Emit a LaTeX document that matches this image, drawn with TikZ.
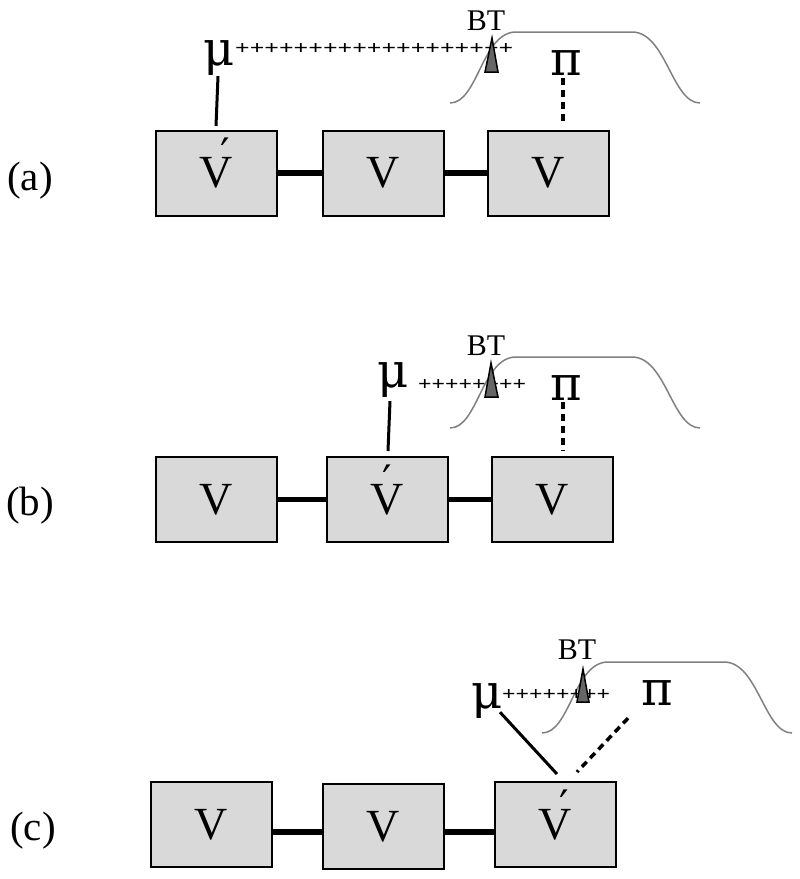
\documentclass[tikz,border=0pt]{standalone}
\usepackage{fontspec}
\usepackage{graphicx}
\setmainfont{Liberation Serif}
\newfontfamily\primefont{DejaVu Serif}
\newfontfamily\greekfont{DejaVu Serif}
\definecolor{boxgray}{HTML}{D9D9D9}
\definecolor{curvegray}{HTML}{808080}
\definecolor{trigray}{HTML}{666666}
\newcommand\accV[1]{V\llap{\smash{\raisebox{19pt}{\primefont\fontsize{42}{42}\selectfont ′}}\kern#1}}
\begin{document}
\begin{tikzpicture}[x=1pt,y=-1pt,
  box/.style={draw=black,line width=2pt,fill=boxgray,minimum width=121pt,minimum height=85pt,inner sep=0pt,font=\fontsize{46}{46}\selectfont},
  link/.style={line width=5.5pt,black},
  stem/.style={line width=3pt,black},
  dstem/.style={line width=3.5pt,black,dash pattern=on 7pt off 5pt},
  greek/.style={anchor=base,inner sep=0pt,font=\greekfont\fontsize{48}{48}\selectfont},
  bt/.style={anchor=base,inner sep=0pt,font=\fontsize{30}{30}\selectfont},
  plusrow/.style={anchor=west,inner sep=0pt,font=\bfseries\fontsize{20}{20}\selectfont},
  lbl/.style={anchor=base,inner sep=0pt,font=\fontsize{41}{41}\selectfont},
  curve/.style={draw=curvegray,line width=1.5pt},
  tri/.style={fill=trigray,draw=black,line width=1.5pt,line join=miter}
]
\useasboundingbox (0,0) rectangle (800,879);

% ---------------- panel (a)
\node[lbl] (la) at (30,190) {(a)};
\node[box] (a1) at (216,173) {\accV{2.5pt}};
\node[box] (a2) at (383,173) {V};
\node[box] (a3) at (548,173) {V};
\draw[link] (a1.east) -- (a2.west);
\draw[link] (a2.east) -- (a3.west);
\draw[curve] (450,103) .. controls (478,103) and (482,32) .. (516,32) -- (632,32) .. controls (666,32) and (672,103) .. (700,103);
\node[greek] (mua) at (219,65) {μ};
\node[plusrow] (pla) at (235,49) {\resizebox{278pt}{11pt}{+++++++++++++++++++}};
\node[bt] (bta) at (486,30) {BT};
\filldraw[tri] (492,38) -- (498,72) -- (485,72) -- cycle;
\node[greek] (pia) at (566,75) {π};
\draw[stem] ([xshift=-1pt,yshift=-1pt]mua.south) -- ([yshift=3.5pt]a1.north);
\draw[dstem] ([xshift=-3pt,yshift=-3pt]pia.south) -- ([xshift=15pt,yshift=5.5pt]a3.north);

% ---------------- panel (b)
\node[lbl] (lb) at (30,515) {(b)};
\node[box] (b1) at (216,499.5) {V};
\node[box] (b2) at (387.5,499.5) {\accV{12.5pt}};
\node[box] (b3) at (552,499.5) {V};
\draw[link] (b1.east) -- (b2.west);
\draw[link] (b2.east) -- (b3.west);
\draw[curve] (450,428) .. controls (478,428) and (482,357) .. (516,357) -- (632,357) .. controls (666,357) and (672,428) .. (700,428);
\node[greek] (mub) at (393,387) {μ};
\node[plusrow] (plb) at (418,385) {\resizebox{108pt}{11pt}{++++++++}};
\node[bt] (btb) at (486,355) {BT};
\filldraw[tri] (491,363) -- (498,397) -- (485,397) -- cycle;
\node[greek] (pib) at (566,400) {π};
\draw[stem] ([xshift=-3pt,yshift=-4pt]mub.south) -- ([xshift=0.5pt,yshift=5pt]b2.north);
\draw[dstem] ([xshift=-3pt,yshift=-2pt]pib.south) -- ([xshift=11pt,yshift=5pt]b3.north);

% ---------------- panel (c)
\node[lbl] (lc) at (33,840) {(c)};
\node[box] (c1) at (211,824.5) {V};
\node[box] (c2) at (383,826.5) {V};
\node[box] (c3) at (555,824.5) {\accV{2.5pt}};
\draw[link] ([yshift=-7.5pt]c1.east) -- ([yshift=-5.5pt]c2.west);
\draw[link] ([yshift=-5.5pt]c2.east) -- ([yshift=-7.5pt]c3.west);
\draw[curve] (542,733) .. controls (570,733) and (574,662) .. (608,662) -- (724,662) .. controls (758,662) and (764,733) .. (792,733);
\node[greek] (muc) at (487,708) {μ};
\node[plusrow] (plc) at (502,695) {\resizebox{108pt}{11pt}{++++++++}};
\node[bt] (btc) at (577,659) {BT};
\filldraw[tri] (583,669) -- (589,702) -- (577,702) -- cycle;
\node[greek] (pic) at (657,705) {π};
\draw[stem] ([xshift=13pt,yshift=6pt]muc.south) -- ([xshift=2pt,yshift=7pt]c3.north);
\draw[dstem] ([xshift=-29pt,yshift=-13pt]pic.south) -- ([xshift=22pt,yshift=9pt]c3.north);
\end{tikzpicture}
\end{document}
